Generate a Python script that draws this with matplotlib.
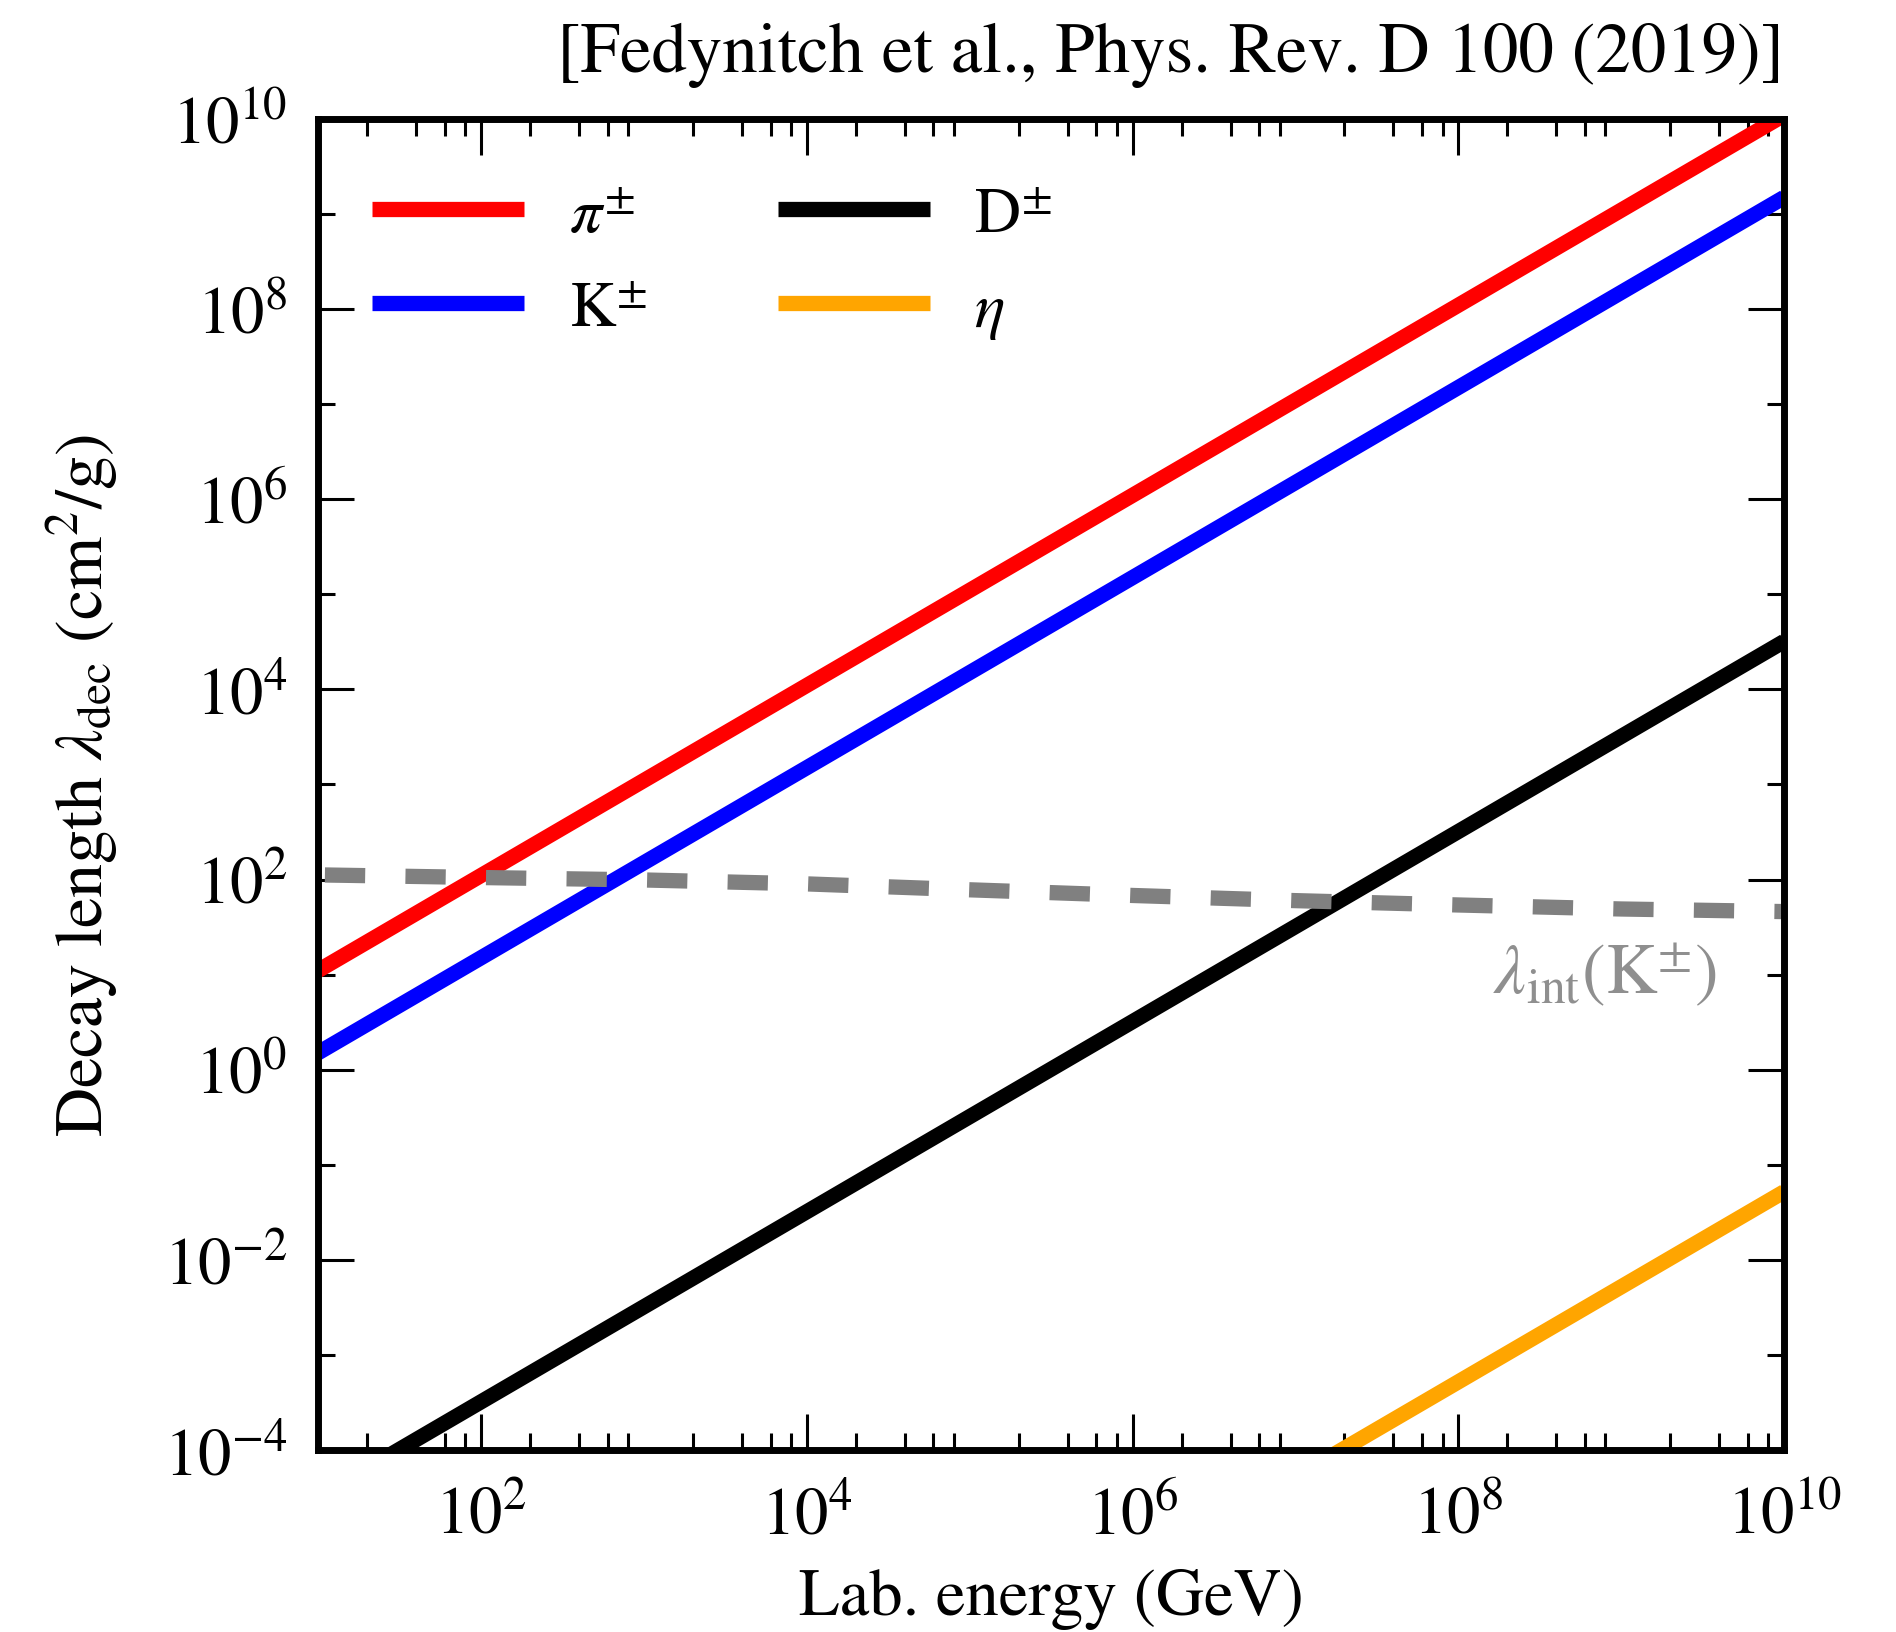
import numpy as np
import matplotlib
matplotlib.use("Agg")
import matplotlib.pyplot as plt
from matplotlib.ticker import FixedLocator, LogFormatterSciNotation, NullFormatter

plt.rcParams["font.family"] = ["STIXGeneral", "DejaVu Serif"]
plt.rcParams["mathtext.fontset"] = "stix"
plt.rcParams["lines.scale_dashes"] = False

# Lab energy grid (GeV) and decay lengths (g/cm^2) of each species
energy = [1e1, 1e10]
lam_pion = [1.1e1, 1.1e10]
lam_kaon = [1.5e0, 1.5e9]
lam_dmeson = [3.2e-5, 3.2e4]
lam_eta = [5.2e-11, 5.2e-2]

# Interaction length of charged kaons
energy_int = [1e1, 1e2, 1e3, 1e4, 1e5, 1e6, 1e7, 1e8, 1e9, 1e10]
lam_int_kaon = [112, 105, 99, 90, 78, 68, 60, 54, 49, 46]

series = [
    (r"$\pi^{\pm}$", lam_pion, "#ff0000"),
    (r"$\mathrm{K}^{\pm}$", lam_kaon, "#0000ff"),
    (r"$\mathrm{D}^{\pm}$", lam_dmeson, "#000000"),
    (r"$\eta$", lam_eta, "#ffa500"),
]

fig = plt.figure(figsize=(18.96, 16.33), dpi=100)
ax = fig.add_axes([0.1677, 0.1115, 0.9410 - 0.1677, 0.9265 - 0.1115])

lw = 11
for label, values, color in series:
    ax.plot(energy, values, color=color, lw=lw, label=label,
            solid_capstyle="butt")

ax.plot(energy_int, lam_int_kaon, color="#808080", lw=lw,
        linestyle=(53, (29, 29)), dash_capstyle="butt")

ax.set_xscale("log")
ax.set_yscale("log")
ax.set_xlim(1e1, 1e10)
ax.set_ylim(1e-4, 1e10)

# Tick layout
ax.xaxis.set_major_locator(FixedLocator([10.0 ** k for k in range(2, 11, 2)]))
ax.xaxis.set_minor_locator(FixedLocator(
    [s * 10.0 ** k for k in range(1, 10) for s in (2, 4, 6, 8)]))
ax.yaxis.set_major_locator(FixedLocator([10.0 ** k for k in range(-4, 11, 2)]))
ax.yaxis.set_minor_locator(FixedLocator([10.0 ** k for k in range(-3, 10, 2)]))
ax.xaxis.set_major_formatter(LogFormatterSciNotation())
ax.yaxis.set_major_formatter(LogFormatterSciNotation())
ax.xaxis.set_minor_formatter(NullFormatter())
ax.yaxis.set_minor_formatter(NullFormatter())

ax.tick_params(which="both", direction="in", top=True, right=True,
               width=2.2, labelsize=48)
ax.tick_params(which="major", length=26)
ax.tick_params(which="minor", length=12)
ax.tick_params(axis="x", which="major", pad=26)
ax.tick_params(axis="y", which="major", pad=22)

for sp in ax.spines.values():
    sp.set_linewidth(5)

ax.set_xlabel("Lab. energy (GeV)", fontsize=48)
ax.set_ylabel(r"Decay length $\lambda_{\rm dec}$ (cm$^2$/g)", fontsize=49)
ax.xaxis.set_label_coords(0.5, -0.089)
ax.yaxis.set_label_coords(-0.135, 0.5)

ax.text(0.954, 0.343, r"$\lambda_{\rm int}(\mathrm{K}^{\pm})$",
        transform=ax.transAxes, ha="right", va="baseline",
        fontsize=51, color="0.56")

ax.legend(ncol=2, loc="upper left", bbox_to_anchor=(0.037, 0.949),
          frameon=False, fontsize=46, handlelength=2.38,
          handletextpad=0.7, columnspacing=2.05, labelspacing=0.55,
          borderpad=0, borderaxespad=0)

fig.text(0.941, 1 - 72 / 1633, "[Fedynitch et al., Phys. Rev. D 100 (2019)]",
         ha="right", va="baseline", fontsize=51)

fig.savefig("out.png", dpi=100)
